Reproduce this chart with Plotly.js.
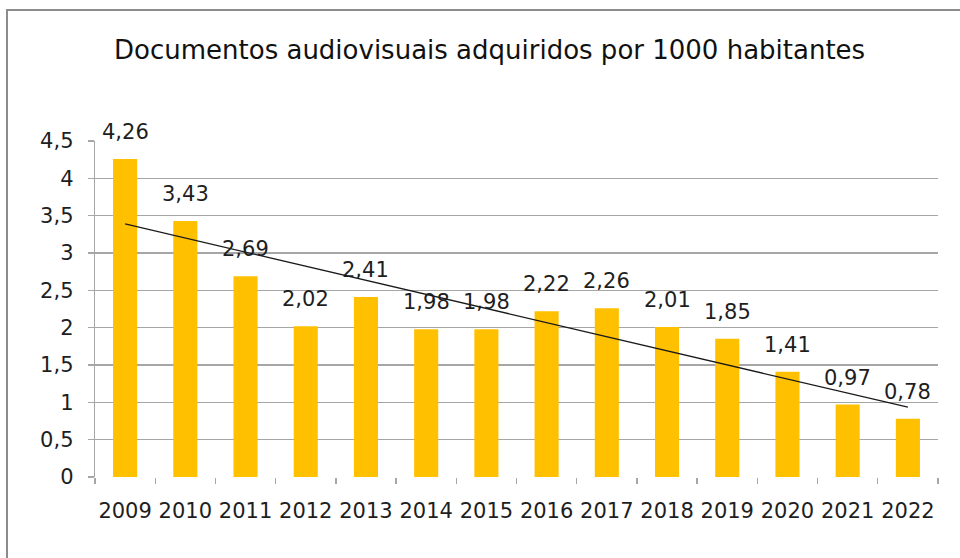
<!DOCTYPE html>
<html>
<head>
<meta charset="utf-8">
<script src="https://cdn.plot.ly/plotly-3.0.1.min.js"></script>
<style>
  html, body { margin: 0; padding: 0; background: #fff; overflow: hidden; }
  #frame { position: absolute; left: 6px; top: 9px; width: 1000px; height: 600px; border: 2px solid #8c8c8c; box-sizing: border-box; }
  #chart { position: absolute; left: 0; top: 0; width: 960px; height: 558px; }
</style>
</head>
<body>
<div id="frame"></div>
<div id="chart"></div>
<script>
const years = ['2009','2010','2011','2012','2013','2014','2015','2016','2017','2018','2019','2020','2021','2022'];
const values = [4.26, 3.43, 2.69, 2.02, 2.41, 1.98, 1.98, 2.22, 2.26, 2.01, 1.85, 1.41, 0.97, 0.78];
const yTicks = [0, 0.5, 1, 1.5, 2, 2.5, 3, 3.5, 4, 4.5];
const titleText = 'Documentos audiovisuais adquiridos por 1000 habitantes';

// linear trend line (least squares) from the data
const n = values.length;
const xs = values.map((_, i) => i);
const mx = xs.reduce((a, b) => a + b, 0) / n;
const my = values.reduce((a, b) => a + b, 0) / n;
let sxy = 0, sxx = 0;
for (let i = 0; i < n; i++) { sxy += (xs[i] - mx) * (values[i] - my); sxx += (xs[i] - mx) ** 2; }
const slope = sxy / sxx;
const icpt = my - slope * mx;
const trendY = [icpt, icpt + slope * (n - 1)];
const trendX = [years[0], years[n - 1]];

const FONT = 'DejaVu Sans, sans-serif';
const TXT = '#1e1e1e';

const bars = {
  type: 'bar', x: years, y: values,
  marker: { color: '#FFC000' },
  hoverinfo: 'x+y', showlegend: false
};
const trend = {
  type: 'scatter', mode: 'lines', x: trendX, y: trendY,
  line: { color: '#1a1a1a', width: 1.3 },
  hoverinfo: 'skip', showlegend: false
};

const annotations = values.map((v, i) => ({
  x: i, y: v, xref: 'x', yref: 'y',
  text: v.toFixed(2).replace('.', ','),
  showarrow: false, yanchor: 'middle', yshift: 27,
  font: { family: FONT, size: 21, color: TXT }
}));

const layout = {
  width: 960, height: 558,
  paper_bgcolor: 'rgba(0,0,0,0)', plot_bgcolor: 'rgba(0,0,0,0)',
  margin: { l: 95, r: 22, t: 141, b: 81 },
  separators: ',.',
  bargap: 0.6,
  title: {
    text: titleText, x: 0.51, xanchor: 'center', y: 0.91, yanchor: 'middle',
    font: { family: FONT, size: 26, color: '#111' }
  },
  xaxis: {
    type: 'category', range: [-0.5, n - 0.5], autorange: false,
    showgrid: false, showline: false, tickangle: 0,
    ticks: 'outside', tickson: 'boundaries', ticklen: 6, tickcolor: '#a6a6a6', tickwidth: 1.3,
    tickfont: { family: FONT, size: 21, color: TXT },
    ticklabelstandoff: 19, zeroline: false
  },
  yaxis: {
    range: [0, 4.5], autorange: false, tickvals: yTicks,
    showgrid: true, gridcolor: '#a6a6a6', gridwidth: 1.3,
    showline: true, linecolor: '#a6a6a6', linewidth: 1.3,
    ticks: 'outside', ticklen: 6, tickcolor: '#a6a6a6', tickwidth: 1.3,
    tickfont: { family: FONT, size: 21, color: TXT },
    ticklabelstandoff: 10, zeroline: false
  },
  annotations: annotations
};

Plotly.newPlot('chart', [bars, trend], layout, { displayModeBar: false, staticPlot: true });
</script>
</body>
</html>
